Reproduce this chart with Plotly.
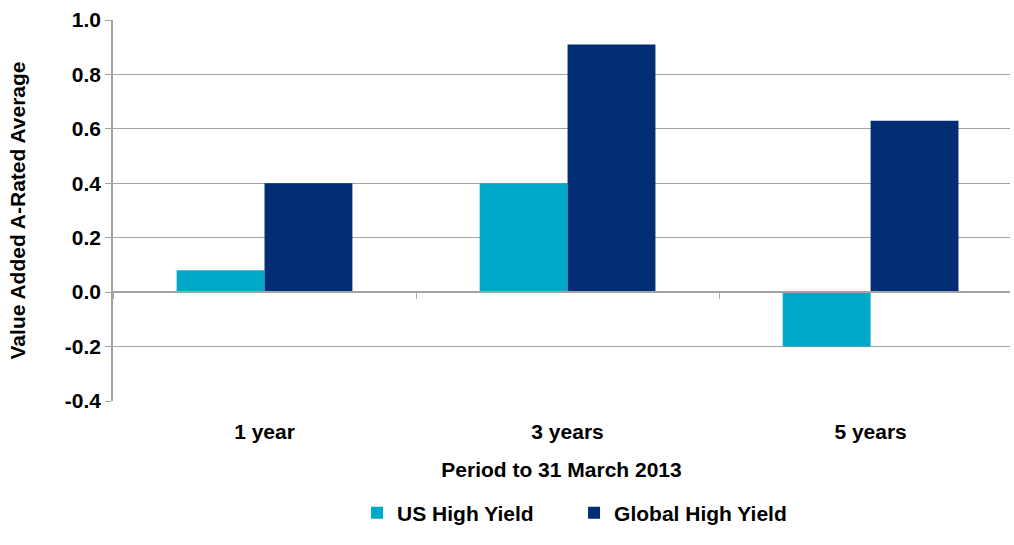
import plotly.graph_objects as go

# Period buckets and value added for each high-yield universe
periods = ["1 year", "3 years", "5 years"]
us_high_yield = [0.08, 0.40, -0.20]
global_high_yield = [0.40, 0.91, 0.63]

y_ticks = [-0.4, -0.2, 0.0, 0.2, 0.4, 0.6, 0.8, 1.0]
y_tick_labels = [f"{v:.1f}" for v in y_ticks]

TEAL = "#00A9C7"
NAVY = "#002D74"
GRID = "#A3A3A3"
FONT = "Liberation Sans, Arial, sans-serif"
SIZE = 21

fig = go.Figure()
fig.add_trace(go.Bar(x=periods, y=us_high_yield, name="US High Yield",
                     marker=dict(color=TEAL, line=dict(width=0))))
fig.add_trace(go.Bar(x=periods, y=global_high_yield, name="Global High Yield",
                     marker=dict(color=NAVY, line=dict(width=0))))
# carrier trace so the zero-line category axis is drawn
fig.add_trace(go.Scatter(x=periods, y=[None] * len(periods), xaxis="x2",
                         showlegend=False, hoverinfo="skip", mode="markers"))

x_range = [-0.5, 2.46]

fig.update_layout(
    width=1014, height=545,
    margin=dict(l=113, r=4, t=20, b=144, autoexpand=False),
    paper_bgcolor="white", plot_bgcolor="white",
    font=dict(family=FONT, size=SIZE, color="black"),
    barmode="group", bargap=0.42, bargroupgap=0,
    xaxis=dict(
        type="category", categoryarray=periods, range=x_range,
        showgrid=False, showline=False, ticks="", zeroline=False,
        tickfont=dict(family=FONT, size=SIZE, color="black", weight="bold"),
        ticklabelstandoff=16,
        title=dict(text="<b>Period to 31 March 2013</b>", standoff=20,
                   font=dict(family=FONT, size=SIZE, color="black")),
    ),
    xaxis2=dict(
        type="category", categoryarray=periods, range=x_range,
        overlaying="x", anchor="free", position=0.4 / 1.4,
        showline=True, linecolor=GRID, linewidth=1.5,
        ticks="outside", tickson="boundaries", ticklen=6, tickcolor=GRID,
        showticklabels=False, showgrid=False, zeroline=False,
    ),
    yaxis=dict(
        range=[-0.4, 1.0], tickvals=y_ticks, ticktext=y_tick_labels,
        showgrid=True, gridcolor=GRID, gridwidth=1.3,
        showline=True, linecolor=GRID, linewidth=1.5,
        ticks="outside", ticklen=6, tickcolor=GRID,
        zeroline=False,
        tickfont=dict(family=FONT, size=SIZE, color="black", weight="bold"),
        title=dict(text="<b>Value Added A-Rated Average</b>", standoff=34,
                   font=dict(family=FONT, size=SIZE, color="black")),
    ),
    legend=dict(
        orientation="h", x=0.514, xanchor="center",
        yref="container", y=1 - 513 / 545, yanchor="middle",
        font=dict(family=FONT, size=SIZE, color="black", weight="bold"),
        itemwidth=30, traceorder="normal", entrywidth=172,
    ),
    showlegend=True,
)

fig.write_html("out.html")
